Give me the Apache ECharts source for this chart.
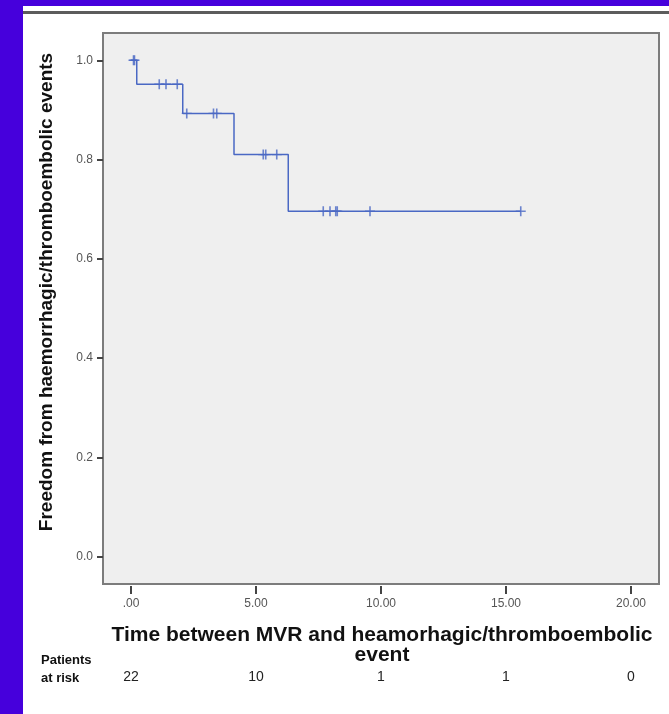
<!DOCTYPE html>
<html>
<head>
<meta charset="utf-8">
<script src="https://cdn.jsdelivr.net/npm/echarts@6/dist/echarts.min.js"></script>
<style>
  html, body { margin: 0; padding: 0; background: #fff; }
  #chart { width: 669px; height: 714px; }
</style>
</head>
<body>
<div id="chart"></div>
<script>
// Kaplan-Meier steps (time, survival after the event)
const stepTimes = [0, 0.23, 2.07, 4.12, 6.29, 15.59];
const stepSurv = [1.0, 0.952, 0.893, 0.81, 0.696, 0.696];

// censored observations
const censorTimes = [0.10, 0.14, 1.13, 1.40, 1.85, 2.23, 3.30, 3.43, 5.29, 5.39, 5.83, 7.69, 7.96, 8.19, 8.25, 9.56, 15.59];
const censorSurv = [1.0, 1.0, 0.952, 0.952, 0.952, 0.893, 0.893, 0.893, 0.81, 0.81, 0.81, 0.696, 0.696, 0.696, 0.696, 0.696, 0.696];

const xTicks = [0, 5, 10, 15, 20];
const yTicks = [0, 0.2, 0.4, 0.6, 0.8, 1.0];
const atRisk = [22, 10, 1, 1, 0];

const lineColor = '#4a68c4';
const font = '"Liberation Sans", Arial, sans-serif';

const chart = echarts.init(document.getElementById('chart'));

const option = {
  backgroundColor: '#fff',
  animation: false,
  textStyle: { fontFamily: font },
  grid: {
    left: 103, top: 33, width: 556, height: 551,
    show: true,
    backgroundColor: '#efefef',
    borderColor: '#7c7c7c',
    borderWidth: 2
  },
  xAxis: [{
    type: 'value',
    min: -1.12, max: 21.12,
    position: 'bottom',
    offset: 2,
    axisLine: { show: false, onZero: false },
    splitLine: { show: false },
    axisTick: { show: true, length: 8, customValues: xTicks, lineStyle: { color: '#444', width: 2 } },
    axisLabel: {
      customValues: xTicks,
      margin: 12,
      color: '#555',
      fontSize: 12,
      formatter: v => v === 0 ? '.00' : v.toFixed(2)
    }
  }, {
    // patients at risk row
    type: 'value',
    min: -1.12, max: 21.12,
    position: 'bottom',
    offset: 86,
    axisLine: { show: false, onZero: false },
    splitLine: { show: false },
    axisTick: { show: false },
    axisLabel: {
      customValues: xTicks,
      margin: 0,
      color: '#222',
      fontSize: 14,
      formatter: v => String(atRisk[xTicks.indexOf(v)])
    }
  }],
  yAxis: {
    type: 'value',
    min: -0.055, max: 1.055,
    position: 'left',
    axisLine: { show: false, onZero: false },
    splitLine: { show: false },
    axisTick: { show: true, length: 6, customValues: yTicks, lineStyle: { color: '#444', width: 2 } },
    axisLabel: {
      customValues: yTicks,
      margin: 10,
      color: '#555',
      fontSize: 12,
      formatter: v => v.toFixed(1)
    }
  },
  graphic: [
    { type: 'rect', z: 100, shape: { x: 0, y: 0, width: 23, height: 714 }, style: { fill: '#4600dc' } },
    { type: 'rect', z: 100, shape: { x: 0, y: 0, width: 669, height: 6 }, style: { fill: '#4600dc' } },
    { type: 'rect', z: 100, shape: { x: 23, y: 11, width: 646, height: 3 }, style: { fill: '#5c5c5c' } },
    {
      type: 'text', x: 47, y: 292, rotation: Math.PI / 2,
      style: {
        text: 'Freedom from haemorrhagic/thromboembolic events',
        font: 'bold 19px ' + font, fill: '#111',
        textAlign: 'center', textVerticalAlign: 'middle'
      }
    },
    {
      type: 'text', x: 382, y: 625,
      style: {
        text: 'Time between MVR and heamorhagic/thromboembolic\nevent',
        font: 'bold 21px ' + font, fill: '#111', lineHeight: 20,
        textAlign: 'center'
      }
    },
    {
      type: 'text', x: 41, y: 651,
      style: {
        text: 'Patients\nat risk',
        font: 'bold 13px ' + font, fill: '#111', lineHeight: 18,
        textAlign: 'left'
      }
    }
  ],
  series: [{
    type: 'line',
    step: 'end',
    symbol: 'none',
    lineStyle: { color: lineColor, width: 1.5 },
    data: stepTimes.map((t, i) => [t, stepSurv[i]])
  }, {
    type: 'scatter',
    symbol: 'path://M4.2,0h1.6v10h-1.6z M0,4.3h10v1.4h-10z',
    symbolSize: [10, 10],
    itemStyle: { color: lineColor },
    data: censorTimes.map((t, i) => [t, censorSurv[i]])
  }]
};

chart.setOption(option);
</script>
</body>
</html>
